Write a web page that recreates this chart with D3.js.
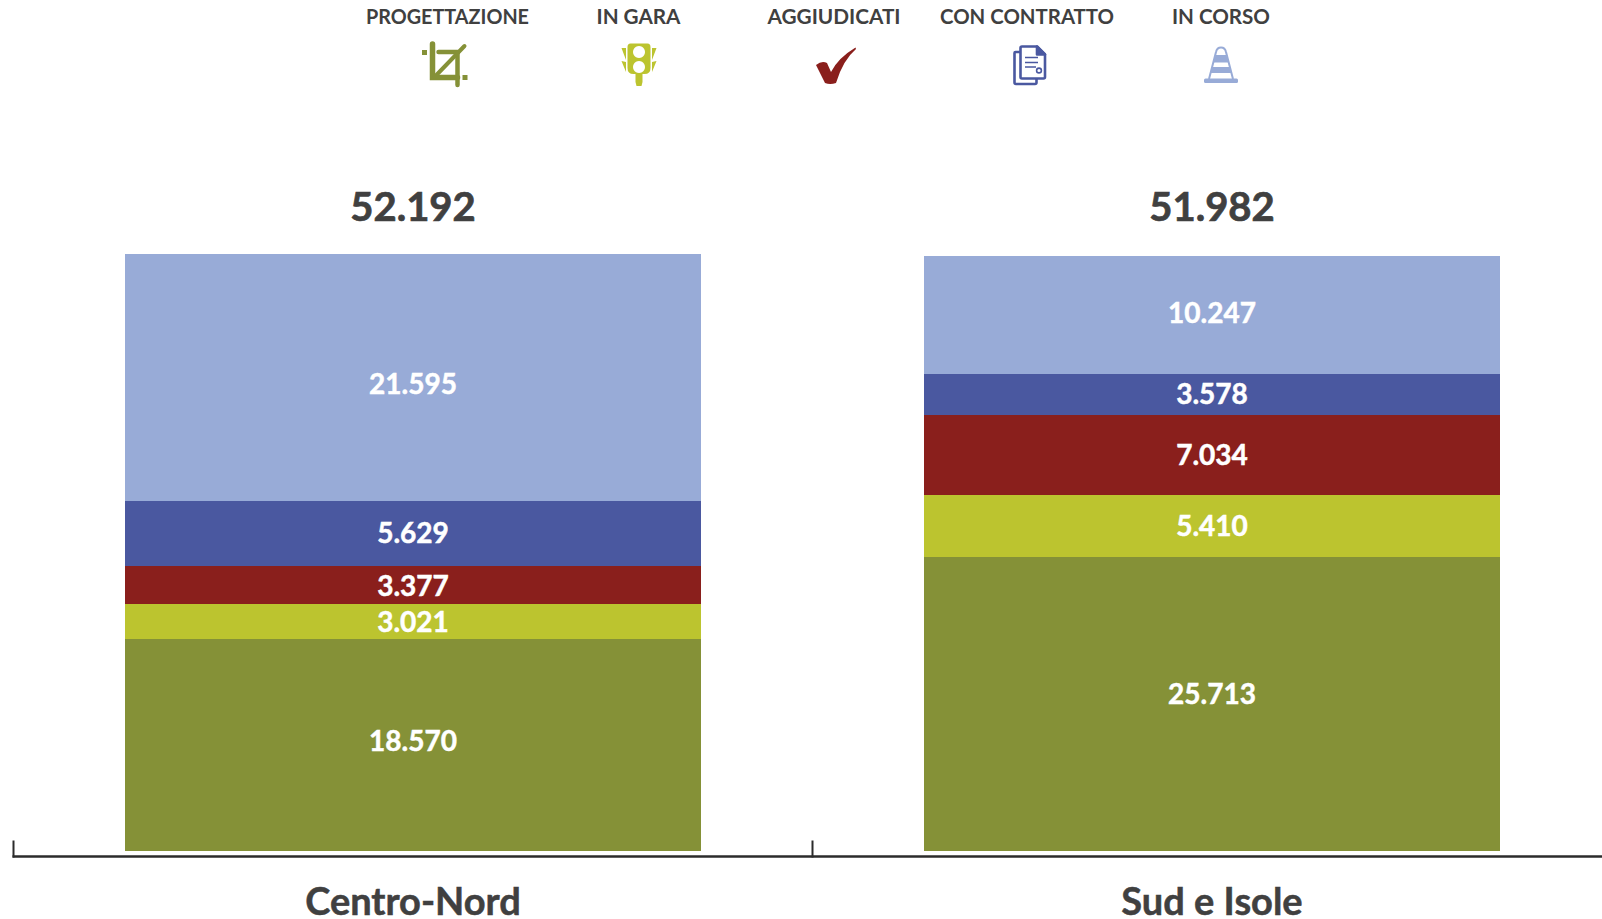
<!DOCTYPE html>
<html>
<head>
<meta charset="utf-8">
<script src="https://d3js.org/d3.v7.min.js"></script>
<style>
  html, body { margin: 0; padding: 0; background: #fff; overflow: hidden; }
  text { font-family: Lato, "Open Sans", sans-serif; font-weight: 700; }
</style>
</head>
<body>
<svg id="chart" width="1602" height="919"></svg>
<script>
const areas = ['Centro-Nord', 'Sud e Isole'];
const stages = ['PROGETTAZIONE', 'IN GARA', 'AGGIUDICATI', 'CON CONTRATTO', 'IN CORSO'];
const centroNord = [18570, 3021, 3377, 5629, 21595];
const sudIsole = [25713, 5410, 7034, 3578, 10247];
const totals = [52192, 51982];
const stageColors = ['#859137', '#bcc42f', '#8a1f1c', '#4a58a0', '#98abd7'];
const legendX = [447.5, 638.5, 834, 1027, 1221];
const legendWidths = [163, 84, 133, 174, 98];
// the labels are not quite centred in the big segments
const labelNudge = [[-5, 0, 0, -1, 6], [-11, -1, -1, -1, -3]];

const svg = d3.select('#chart');
const dark = '#404040';
const fmt = v => d3.format(',')(v).replace(/,/g, '.');

const x = d3.scaleBand().domain(areas).range([13.5, 1611.5]);
const y = d3.scaleLinear().domain([0, 52192]).range([851.3, 254]);
const barWidth = x.bandwidth() * 0.721;

const rows = areas.map((a, i) => ({ area: a, values: i === 0 ? centroNord : sudIsole, total: totals[i] }));

rows.forEach((row, i) => {
    let sum = 0;
    const cx = x(row.area) + x.bandwidth() / 2;
    row.values.forEach((v, j) => {
        const y0 = y(sum), y1 = y(sum + v);
        sum += v;
        svg.append('rect')
            .attr('x', cx - barWidth / 2)
            .attr('y', y1)
            .attr('width', barWidth)
            .attr('height', y0 - y1)
            .attr('shape-rendering', 'crispEdges')
            .style('fill', stageColors[j]);
        svg.append('text')
            .attr('x', cx)
            .attr('y', (y0 + y1) / 2 + 1 + labelNudge[i][j])
            .attr('dy', '.35em')
            .attr('text-anchor', 'middle')
            .style('font-size', '28px')
            .style('fill', '#fff')
            .style('stroke', '#fff')
            .style('stroke-width', '0.5px')
            .text(fmt(v));
    });
    // totals sit on the same line above both bars
    svg.append('text')
        .attr('x', cx)
        .attr('y', 221)
        .attr('text-anchor', 'middle')
        .style('font-size', '40px')
        .style('fill', dark)
        .style('stroke', dark)
        .style('stroke-width', '0.7px')
        .text(fmt(row.total));
});

// axis with separators at the band edges
const axis = svg.append('g').attr('transform', 'translate(0,856.5)')
    .call(d3.axisBottom(x).tickSize(0).tickPadding(32));
axis.select('.domain').remove();
axis.selectAll('text')
    .style('font-family', 'Lato, sans-serif')
    .style('font-weight', 700)
    .style('font-size', '38px')
    .style('fill', dark)
    .style('stroke', dark)
    .style('stroke-width', '0.5px');
axis.append('line')
    .attr('x1', 12.5).attr('x2', 1602)
    .attr('stroke', '#2b2b2b').attr('stroke-width', 2.6);
areas.forEach(a => {
    axis.append('line')
        .attr('x1', x(a)).attr('x2', x(a))
        .attr('y1', 1).attr('y2', -16)
        .attr('stroke', '#2b2b2b').attr('stroke-width', 2);
});

// legend labels
svg.selectAll('.stage')
    .data(stages)
    .enter()
    .append('text')
    .attr('class', 'stage')
    .attr('x', (d, i) => legendX[i])
    .attr('y', 24)
    .attr('text-anchor', 'middle')
    .attr('textLength', (d, i) => legendWidths[i])
    .attr('lengthAdjust', 'spacingAndGlyphs')
    .style('font-size', '20.5px')
    .style('fill', dark)
    .text(d => d);

// legend icons
function icon(i) {
    return svg.append('g').attr('transform', `translate(${legendX[i]},0)`);
}

const crop = icon(0).attr('fill', 'none').attr('stroke', stageColors[0]).attr('stroke-linecap', 'round');
crop.append('path').attr('d', 'M-15 44V77.5H10').attr('stroke-width', 5.5);
crop.append('path').attr('d', 'M-9 52H10M10 52V85').attr('stroke-width', 4.5);
crop.append('path').attr('d', 'M-13 77L17 46').attr('stroke-width', 4);
crop.append('rect').attr('x', -25.5).attr('y', 50).attr('width', 5).attr('height', 5).attr('fill', stageColors[0]).attr('stroke', 'none');
crop.append('rect').attr('x', 15).attr('y', 75).attr('width', 5).attr('height', 5).attr('fill', stageColors[0]).attr('stroke', 'none');

const light = icon(1).attr('fill', stageColors[1]);
light.append('path').attr('fill-rule', 'evenodd')
    .attr('d', 'M-8 43.5H9Q12 43.5 12 47V68Q12 74 6 74H-5Q-11 74 -11 68V47Q-11 43.5 -8 43.5ZM0.5 46A6 6 0 1 0 0.51 46ZM0.5 61A6 6 0 1 0 0.51 61Z');
light.append('path').attr('d', 'M-3 73H4V82L3 86H-2L-3 82Z');
light.append('path').attr('d', 'M-17 48L-12.5 48V60ZM18 48L13.5 48V60ZM-17 61L-12.5 62V72ZM18 61L13.5 62V72Z');

icon(2).append('path').attr('fill', stageColors[2])
    .attr('d', 'M-18 65Q-12 60 -7 63L-3 72Q4 58 21.5 47.5L22 49Q9 60 2 83Q-4 85 -9 83Z');

const doc = icon(3).attr('transform', `translate(${legendX[3] + 1},0)`)
    .attr('fill', 'none').attr('stroke', stageColors[3]).attr('stroke-width', 2.6).attr('stroke-linejoin', 'round');
doc.append('path').attr('d', 'M-6 46.5H9L17 54.5V77Q17 78.5 15.5 78.5H-6Q-7.5 78.5 -7.5 77V48Q-7.5 46.5 -6 46.5Z');
doc.append('path').attr('d', 'M-7.5 52H-12.5Q-13.5 52 -13.5 53V82.5Q-13.5 84 -12 84H7Q8.5 84 8.5 82.5V78.5');
doc.append('path').attr('d', 'M9 46.5L17 54.5H9Z').attr('fill', stageColors[3]);
doc.append('path').attr('d', 'M-3 57.5H10M-3 62.5H10M-3 67H8').attr('stroke-width', 1.6);
doc.append('circle').attr('cx', 11).attr('cy', 70.5).attr('r', 2.4).attr('stroke-width', 1.6);

const cone = icon(4).attr('fill', stageColors[4]);
cone.append('rect').attr('x', -17).attr('y', 78.5).attr('width', 34).attr('height', 4.5).attr('rx', 1.5);
cone.append('path').attr('fill', 'none').attr('stroke', stageColors[4]).attr('stroke-width', 2)
    .attr('d', 'M-12 79L-5 52Q-4 47.5 0 47.5Q4 47.5 5 52L12 79');
cone.append('path').attr('d', 'M-5.4 55H5.4L7.6 62.5H-7.6ZM-8.9 67H8.9L10.6 73H-10.6Z');
</script>
</body>
</html>
